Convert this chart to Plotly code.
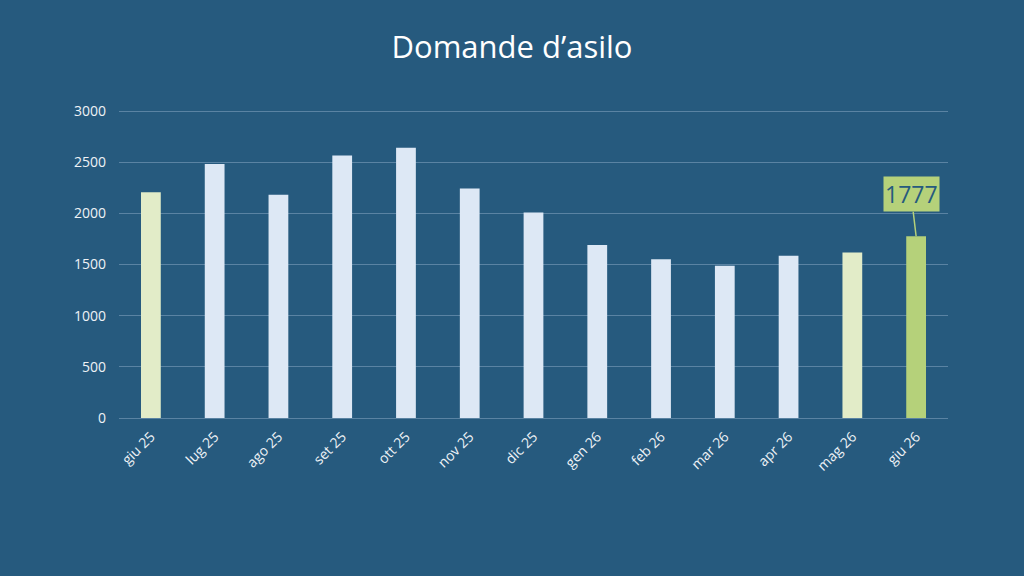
import plotly.graph_objects as go

months = ["giu 25", "lug 25", "ago 25", "set 25", "ott 25", "nov 25", "dic 25",
          "gen 26", "feb 26", "mar 26", "apr 26", "mag 26", "giu 26"]
domande = [2208, 2482, 2182, 2567, 2642, 2244, 2010, 1691, 1551, 1488, 1586, 1619, 1777]
bar_colors = ["#E2ECC8"] + ["#DDE8F5"] * 10 + ["#E2ECC8", "#B5D17A"]

BG = "#265A7E"

fig = go.Figure(go.Bar(
    x=months, y=domande,
    marker=dict(color=bar_colors, line=dict(width=0)),
    width=0.31,
    hoverinfo="x+y",
))

fig.add_annotation(
    x=months[-1], y=domande[-1],
    text=str(domande[-1]),
    showarrow=True, arrowhead=0, arrowwidth=1.5, arrowcolor="#B5D17A",
    ax=-5, ay=-42,
    bgcolor="#B5D17A", borderpad=1,
    font=dict(family="Open Sans, sans-serif", size=23, color=BG),
)

fig.update_layout(
    width=1024, height=576,
    paper_bgcolor=BG, plot_bgcolor=BG,
    margin=dict(l=119, r=76, t=106, b=158),
    title=dict(text="Domande d’asilo", x=0.5, xanchor="center", y=0.918, yanchor="middle",
               font=dict(family="Open Sans, sans-serif", size=31, color="#FFFFFF")),
    showlegend=False,
    bargap=0.69,
)
fig.update_yaxes(
    range=[0, 3050], tickvals=[0, 500, 1000, 1500, 2000, 2500, 3000],
    showgrid=True, gridcolor="#5A83A3", gridwidth=1,
    zeroline=False, showline=False, ticks="", ticklabelstandoff=12,
    tickfont=dict(family="Open Sans, sans-serif", size=14, color="#EEF2F6"),
)
fig.update_xaxes(
    showgrid=False, showline=True, linecolor="#5A83A3", linewidth=1, ticks="",
    tickangle=-45, ticklabelstandoff=4,
    tickfont=dict(family="Open Sans, sans-serif", size=14, color="#EEF2F6"),
)

fig.write_html("out.html")
